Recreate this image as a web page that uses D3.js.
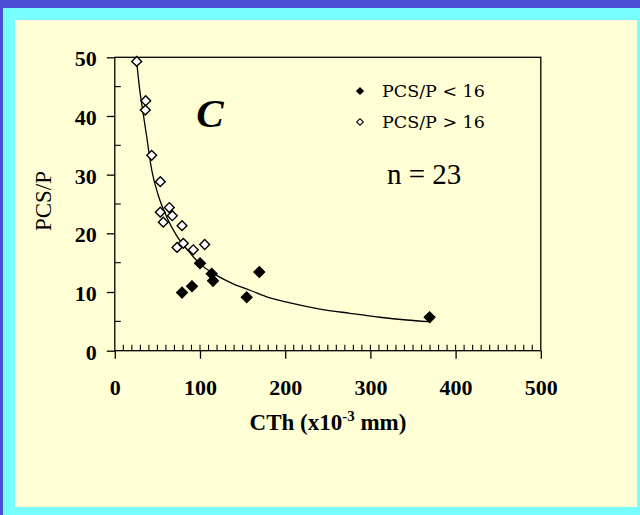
<!DOCTYPE html>
<html>
<head>
<meta charset="utf-8">
<script src="https://cdn.jsdelivr.net/npm/d3@7"></script>
<style>
  body { margin: 0; background: #4a4fd6; }
  svg { display: block; }
</style>
</head>
<body>
<svg id="chart"></svg>
<script>
// open diamonds: PCS/P > 16
const highCTh = [25.7, 36.3, 35.8, 43.3, 53.4, 64.0, 53.4, 67.5, 56.9, 78.9, 73.0, 80.4, 92.1, 105.5];
const highPCS = [49.3, 42.6, 41.0, 33.3, 28.8, 24.4, 23.6, 23.0, 21.9, 21.3, 17.6, 18.3, 17.2, 18.1];
// filled diamonds: PCS/P < 16
const lowCTh = [100.0, 113.7, 115.3, 78.9, 90.6, 154.8, 169.6, 369.5];
const lowPCS = [14.9, 13.1, 11.9, 9.9, 11.0, 9.1, 13.4, 5.7];
// fitted curve
const curveCTh = [25.7, 28.8, 32.7, 37.4, 43.3, 51.0, 60.9, 72.6, 86.3, 100, 120, 139, 158.7, 182, 205.6, 240.8, 276, 311, 342.6, 368];
const curvePCS = [49.3, 45.0, 41.0, 36.5, 30.8, 26.5, 22.8, 19.6, 17.0, 14.8, 12.8, 11.4, 10.3, 9.0, 8.15, 7.1, 6.37, 5.7, 5.23, 4.94];

const xTicks = [0, 100, 200, 300, 400, 500];
const yTicks = [0, 10, 20, 30, 40, 50];

const W = 640, H = 515;
const svg = d3.select("#chart").attr("width", W).attr("height", H);

// frame: cyan border and pale yellow panel
svg.append("rect").attr("x", 3).attr("y", 8).attr("width", W - 3).attr("height", H - 8).attr("fill", "#77ffff");
svg.append("rect").attr("x", 15).attr("y", 20).attr("width", 622).attr("height", 487).attr("fill", "#ffffd5");

const x = d3.scaleLinear().domain([0, 500]).range([114.8, 540.8]);
const y = d3.scaleLinear().domain([0, 50]).range([350.7, 57.3]);

const g = svg.append("g");

// box
g.append("rect")
  .attr("x", x(0)).attr("y", y(50))
  .attr("width", x(500) - x(0)).attr("height", y(0) - y(50))
  .attr("fill", "none").attr("stroke", "black").attr("stroke-width", 1.3);

// x axis: major ticks outside, minor every 10 inside
const xAxis = g.append("g").attr("transform", "translate(0," + y(0) + ")")
  .call(d3.axisBottom(x).tickValues(xTicks).tickSize(8).tickFormat(d3.format("d")));
xAxis.select(".domain").remove();
xAxis.selectAll(".tick line").attr("stroke", "black").attr("stroke-width", 1.3);
xAxis.selectAll(".tick text")
  .attr("y", 44).attr("dy", null)
  .style("font-family", "'Liberation Serif', 'Times New Roman', serif")
  .style("font-weight", "bold").style("font-size", "22px").attr("fill", "black");

g.append("g").selectAll("line")
  .data(d3.range(10, 500, 10))
  .enter().append("line")
  .attr("x1", d => x(d)).attr("x2", d => x(d))
  .attr("y1", y(0)).attr("y2", y(0) - 6)
  .attr("stroke", "black").attr("stroke-width", 1.1);

// y axis
const yAxis = g.append("g").attr("transform", "translate(" + x(0) + ",0)")
  .call(d3.axisLeft(y).tickValues(yTicks).tickSize(8).tickFormat(d3.format("d")));
yAxis.select(".domain").remove();
yAxis.selectAll(".tick line").attr("stroke", "black").attr("stroke-width", 1.3);
yAxis.selectAll(".tick text")
  .attr("x", -18).attr("dy", "0.38em")
  .style("font-family", "'Liberation Serif', 'Times New Roman', serif")
  .style("font-weight", "bold").style("font-size", "22px").attr("fill", "black");

g.append("g").selectAll("line")
  .data([5, 15, 25, 35, 45])
  .enter().append("line")
  .attr("x1", x(0)).attr("x2", x(0) + 6)
  .attr("y1", d => y(d)).attr("y2", d => y(d))
  .attr("stroke", "black").attr("stroke-width", 1.1);

// axis titles
const xTitle = svg.append("text")
  .attr("x", 328).attr("y", 430)
  .attr("text-anchor", "middle")
  .style("font-family", "'Liberation Serif', 'Times New Roman', serif")
  .style("font-weight", "bold").style("font-size", "23px");
xTitle.append("tspan").text("CTh (x10");
xTitle.append("tspan").attr("dy", -9).style("font-size", "15px").text("-3");
xTitle.append("tspan").attr("dy", 9).text(" mm)");

svg.append("text")
  .attr("transform", "translate(51," + y(25.5) + ") rotate(-90)")
  .attr("text-anchor", "middle")
  .style("font-family", "'Liberation Serif', 'Times New Roman', serif")
  .style("font-size", "23px")
  .text("PCS/P");

// fitted curve
const curveData = curveCTh.map((c, i) => [c, curvePCS[i]]);
g.append("path")
  .datum(curveData)
  .attr("d", d3.line().x(d => x(d[0])).y(d => y(d[1])).curve(d3.curveMonotoneX))
  .attr("fill", "none").attr("stroke", "black").attr("stroke-width", 1.3);

// points
const highData = highCTh.map((c, i) => ({cth: c, pcs: highPCS[i]}));
const lowData = lowCTh.map((c, i) => ({cth: c, pcs: lowPCS[i]}));

g.append("g").selectAll("path")
  .data(highData)
  .enter().append("path")
  .attr("d", d3.symbol().type(d3.symbolSquare).size(48))
  .attr("transform", d => "translate(" + x(d.cth) + "," + y(d.pcs) + ") rotate(45)")
  .attr("fill", "white").attr("stroke", "black").attr("stroke-width", 1.4);

g.append("g").selectAll("path")
  .data(lowData)
  .enter().append("path")
  .attr("d", d3.symbol().type(d3.symbolSquare).size(62))
  .attr("transform", d => "translate(" + x(d.cth) + "," + y(d.pcs) + ") rotate(45)")
  .attr("fill", "black").attr("stroke", "black").attr("stroke-width", 1);

// panel letter
svg.append("text")
  .attr("x", 210).attr("y", 127)
  .attr("text-anchor", "middle")
  .style("font-family", "'Liberation Serif', 'Times New Roman', serif")
  .style("font-weight", "bold").style("font-style", "italic").style("font-size", "41px")
  .text("C");

// legend
const legend = [
  {label: "PCS/P < 16", fill: "black", y: 91},
  {label: "PCS/P > 16", fill: "white", y: 122}
];
const leg = svg.append("g").selectAll("g")
  .data(legend)
  .enter().append("g");
leg.append("path")
  .attr("d", d3.symbol().type(d3.symbolSquare).size(22))
  .attr("transform", d => "translate(360," + d.y + ") rotate(45)")
  .attr("fill", d => d.fill).attr("stroke", "black").attr("stroke-width", 1.1);
leg.append("text")
  .attr("x", 382).attr("y", d => d.y + 5.5)
  .style("font-family", "'DejaVu Serif', serif")
  .style("font-size", "17.5px")
  .text(d => d.label);

svg.append("text")
  .attr("x", 387).attr("y", 184)
  .style("font-family", "'Liberation Serif', 'Times New Roman', serif")
  .style("font-size", "29px")
  .text("n = 23");
</script>
</body>
</html>
